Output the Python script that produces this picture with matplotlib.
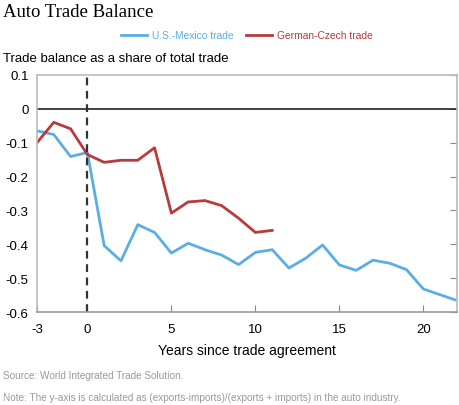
import matplotlib.pyplot as plt

plt.rcParams['font.family'] = ['Liberation Sans', 'DejaVu Sans']
plt.rcParams['axes.unicode_minus'] = False

# years since trade agreement
years_mx = list(range(-3, 23))
us_mexico = [-0.065, -0.076, -0.141, -0.129, -0.404, -0.449, -0.342, -0.365,
             -0.426, -0.397, -0.416, -0.432, -0.460, -0.424, -0.416, -0.470,
             -0.441, -0.402, -0.461, -0.477, -0.447, -0.456, -0.475, -0.532,
             -0.549, -0.566]

years_cz = list(range(-3, 12))
german_czech = [-0.100, -0.040, -0.059, -0.135, -0.158, -0.152, -0.152, -0.115,
                -0.308, -0.275, -0.271, -0.286, -0.323, -0.365, -0.359]

xticks = [-3, 0, 5, 10, 15, 20]
yticks = [0.1, 0, -0.1, -0.2, -0.3, -0.4, -0.5, -0.6]
ytick_labels = ['0.1', '0', '-0.1', '-0.2', '-0.3', '-0.4', '-0.5', '-0.6']

blue = '#5aaee3'
red = '#b83a3c'

fig = plt.figure(figsize=(4.6, 4.06), dpi=100)
ax = fig.add_axes([0.0804, 0.229, 0.913, 0.584])

ax.plot(years_mx, us_mexico, color=blue, lw=2, label='U.S.-Mexico trade')
ax.plot(years_cz, german_czech, color=red, lw=2, label='German-Czech trade')
ax.axhline(0, color='#222222', lw=1.2)
ax.axvline(0, color='#333333', lw=1.6, ls=(0, (3.5, 2.5)))

ax.set_xlim(-3, 22)
ax.set_ylim(-0.6, 0.1)
ax.set_xticks(xticks)
ax.set_yticks(yticks)
ax.set_yticklabels(ytick_labels)
ax.tick_params(axis='x', direction='in', length=5, color='#888888', labelsize=9.5, pad=8)
ax.tick_params(axis='y', direction='in', length=5, color='#888888', labelsize=9.5,
               left=False, right=True, labelleft=True, pad=6)
for s in ax.spines.values():
    s.set_color('#bbbbbb')
    s.set_linewidth(1.2)
ax.spines['bottom'].set_color('#999999')

ax.set_xlabel('Years since trade agreement', fontsize=10, labelpad=6)

fig.text(0.007, 0.968, 'Auto Trade Balance', family='Liberation Serif', fontsize=13.5,
         va='center')
fig.text(0.007, 0.855, 'Trade balance as a share of total trade', fontsize=9.5, va='center')

leg = fig.legend(loc='center', bbox_to_anchor=(0.537, 0.911), ncol=2, frameon=False,
                 fontsize=7.4, handlelength=2.5, columnspacing=1.2, handletextpad=0.5)
for t, c in zip(leg.get_texts(), [blue, red]):
    t.set_color(c)

fig.text(0.007, 0.074, 'Source: World Integrated Trade Solution.', fontsize=7.2,
         color='#999999', va='center')
fig.text(0.007, 0.02, 'Note: The y-axis is calculated as (exports-imports)/(exports + imports) in the auto industry.',
         fontsize=7.2, color='#999999', va='center')

fig.savefig('out.png', dpi=100)
